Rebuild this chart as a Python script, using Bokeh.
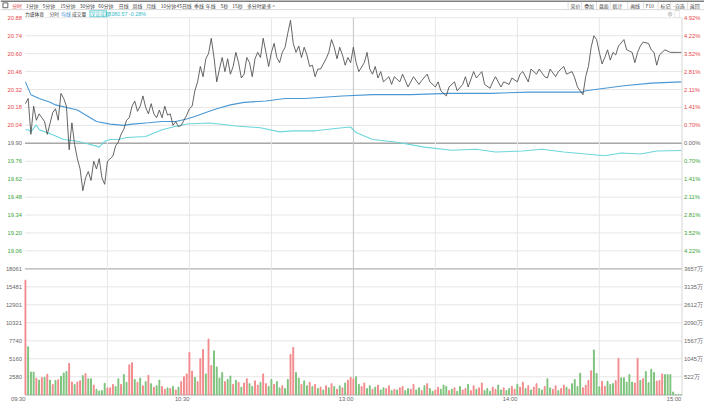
from bokeh.plotting import figure
from bokeh.models import Range1d
from bokeh.embed import file_html
from bokeh.resources import INLINE
from bokeh.core.properties import value

# ---------------- data ----------------
stock_name = "力盛体育"
index_name = "深证成指"
index_last = "8380.57"
index_chg = "-0.28%"
prev_close = 19.90

price_ticks = ["20.88", "20.74", "20.60", "20.46", "20.32", "20.18", "20.04",
               "19.90", "19.76", "19.62", "19.48", "19.34", "19.20", "19.06"]
pct_ticks = ["4.92%", "4.22%", "3.52%", "2.81%", "2.11%", "1.41%", "0.70%",
             "0.00%", "0.70%", "1.41%", "2.11%", "2.81%", "3.52%", "4.22%"]
vol_ticks = ["18061", "15481", "12901", "10321", "7740", "5160", "2580"]
amt_ticks = ["3657万", "3135万", "2612万", "2090万", "1567万", "1045万", "522万"]
time_ticks = ["09:30", "10:30", "13:00", "14:00", "15:00"]
time_tick_min = [0, 60, 120, 180, 240]
grid_min = [30, 60, 90, 120, 150, 180, 210]

price_min = [0, 1, 2, 3, 4, 5, 6, 7, 8, 10, 11, 12, 13, 14, 15, 16, 17, 18, 19, 20,
             21, 22, 23, 24, 25, 26, 27, 28, 29, 30, 32, 33, 34, 35, 36, 37, 38, 39, 40, 41,
             42, 43, 44, 45, 46, 47, 48, 49, 50, 51, 52, 53, 54, 55, 56, 57, 58, 59, 60, 61,
             62, 63, 64, 65, 66, 67, 68, 69, 70, 71, 72, 73, 74, 75, 76, 77, 78, 79, 80, 81,
             82, 83, 84, 85, 86, 87, 88, 89, 90, 91, 92, 93, 94, 95, 96, 97, 98, 99, 100, 101,
             102, 103, 104, 105, 106, 107, 108, 110, 111, 112, 113, 114, 115, 116, 117, 118, 119,
             120, 121, 122, 124, 125, 126, 127, 128, 129, 130, 131, 133, 134, 135, 137, 138, 140,
             141, 142, 144, 145, 147, 148, 150, 151, 152, 154, 155, 157, 158, 160, 161, 162, 164,
             165, 167, 168, 170, 171, 172, 174, 175, 177, 178, 180, 181, 182, 184, 185, 187, 188,
             190, 191, 192, 194, 195, 197, 198, 200, 201, 202, 204, 205, 206, 207, 208, 209, 210,
             211, 212, 213, 214, 215, 216, 217, 219, 220, 221, 222, 223, 224, 225, 226, 228, 229,
             230, 231, 232, 233, 234, 235, 236, 238, 239, 240]
price_val = [20.21, 20.25, 19.97, 20.19, 20.08, 20.13, 20.10, 20.07, 19.97, 20.14, 20.17, 20.08,
             20.29, 20.25, 20.19, 19.85, 20.06, 19.89, 19.78, 19.70, 19.53, 19.63, 19.68, 19.61,
             19.76, 19.70, 19.78, 19.63, 19.58, 19.76, 19.80, 19.88, 19.91, 19.97, 20.01, 20.08,
             20.10, 20.19, 20.23, 20.15, 20.19, 20.27, 20.18, 20.13, 20.21, 20.13, 20.10, 20.16,
             20.10, 20.19, 20.12, 20.13, 20.04, 20.07, 20.03, 20.04, 20.08, 20.12, 20.17, 20.19,
             20.31, 20.38, 20.50, 20.42, 20.56, 20.60, 20.72, 20.57, 20.38, 20.48, 20.57, 20.46,
             20.56, 20.44, 20.50, 20.61, 20.53, 20.41, 20.44, 20.57, 20.53, 20.42, 20.56, 20.61,
             20.57, 20.72, 20.61, 20.50, 20.61, 20.68, 20.57, 20.53, 20.61, 20.65, 20.76, 20.86,
             20.68, 20.61, 20.66, 20.57, 20.65, 20.59, 20.50, 20.51, 20.42, 20.48, 20.48, 20.56,
             20.61, 20.71, 20.65, 20.56, 20.65, 20.59, 20.51, 20.57, 20.53,
             20.65, 20.53, 20.46, 20.53, 20.61, 20.48, 20.44, 20.50, 20.41, 20.46, 20.38, 20.42,
             20.36, 20.42, 20.38, 20.44, 20.34, 20.38, 20.42, 20.36, 20.39, 20.44, 20.38, 20.34,
             20.38, 20.31, 20.27, 20.34, 20.38, 20.31, 20.36, 20.42, 20.34, 20.46, 20.41, 20.46,
             20.36, 20.33, 20.38, 20.42, 20.34, 20.38, 20.36, 20.41, 20.38, 20.44, 20.46, 20.38,
             20.48, 20.44, 20.48, 20.42, 20.41, 20.48, 20.42, 20.46, 20.50, 20.44, 20.46, 20.41,
             20.34, 20.28, 20.42, 20.50, 20.65, 20.74, 20.71, 20.61, 20.52, 20.57, 20.63, 20.55,
             20.61, 20.59, 20.66, 20.71, 20.63, 20.62, 20.61, 20.53, 20.61, 20.66, 20.69, 20.68,
             20.63, 20.61, 20.51, 20.59, 20.61, 20.63, 20.62, 20.61, 20.61, 20.61, 20.61]

avg_min = [0, 2, 5, 9, 11, 19, 26, 31, 36, 39, 45, 50, 55, 59, 62, 66, 70, 75, 80, 88,
           95, 102, 109, 116, 127, 141, 155, 170, 184, 198, 204, 205, 212, 219, 229, 240]
avg_val = [20.38, 20.28, 20.25, 20.22, 20.20, 20.16, 20.07, 20.05, 20.04, 20.05, 20.06, 20.07,
           20.07, 20.09, 20.11, 20.14, 20.17, 20.20, 20.22, 20.23, 20.25, 20.25, 20.26, 20.27,
           20.28, 20.28, 20.29, 20.29, 20.30, 20.30, 20.30, 20.31, 20.33, 20.35, 20.37, 20.38]

idx_min = [0, 1, 2, 4, 5, 8, 10, 14, 19, 22, 26, 27, 29, 31, 34, 37, 44, 50, 54, 59, 67, 71,
           77, 86, 93, 98, 106, 116, 119, 121, 127, 136, 146, 156, 165, 172, 182, 189, 197, 205,
           212, 218, 225, 231, 240]
idx_pct = [0.53, 0.53, 0.45, 0.72, 0.53, 0.42, 0.34, 0.15, 0.08, 0.00, -0.11, -0.15, 0.08,
           0.15, 0.15, 0.23, 0.27, 0.53, 0.64, 0.76, 0.80, 0.76, 0.68, 0.61, 0.45, 0.49, 0.49,
           0.61, 0.64, 0.42, 0.15, 0.04, -0.15, -0.27, -0.23, -0.34, -0.30, -0.23, -0.34, -0.42,
           -0.49, -0.38, -0.42, -0.30, -0.28]

vol_am = [16450, 6890, 3270, 3270, 2390, 2110, 2480, 2520, 2940, 2110,
          1480, 2070, 2160, 2660, 3130, 3360, 4510, 1840, 1480, 1840,
          2020, 2760, 3030, 2300, 2300, 1390, 790, 550, 600, 1650,
          1000, 1000, 1480,
          1200, 2300, 1500, 2900, 1800, 4300, 4600, 2200, 1800, 2400,
          1300, 1900, 2800, 1600, 1100, 1300, 2100, 1200, 800, 1000,
          900, 1200, 700, 1100, 1900, 2600, 3000, 6100, 3400, 2500,
          1900, 5200, 6500, 3000, 8000, 4200, 6300, 4000, 2400, 3200,
          1900, 2200, 2700, 1500, 2100, 1800, 1100, 1700, 2300, 1600,
          1200, 2000, 1400, 1800, 3000, 1600, 1200, 2200, 1500, 1900,
          1000, 1300, 900, 2200, 5800, 6800, 3200, 2400, 1500, 2000,
          1300, 1800, 1200, 1500, 900, 1100, 700, 1300, 1000, 1600,
          1200, 800, 1300, 1000, 1700, 2100, 2500]
dir_am = ("rgggrgrgrg" "rgrgggrrgr" "rgrggrgggg" "rrr"
          "ggrggrrgrg" "rgrgrggrrg" "rgrgrrrrrg" "rrrgrrgggg"
          "rggrgrgrrg" "grrgrrggrg" "grggrrggrg" "grgrgrgrgr" "grgrgrr")
vol_pm = [2300, 2600, 1500, 1200, 1700, 900, 1300, 800, 1100, 1400,
          700, 1000, 900, 1300, 600, 800, 700, 1000, 1200, 600,
          900, 800, 1500, 700, 1000, 600, 1300, 1600, 900, 500,
          700, 1100, 800, 1400, 1200, 600, 800, 1000, 500, 1200,
          700, 900, 1500, 600, 1300, 800, 1000, 1700, 600, 900,
          500, 1100, 800, 1400, 700, 1000, 600, 900, 1200, 800,
          1500, 1100, 1800, 900, 1300, 700, 1100, 1600, 900, 700,
          1200, 2300, 1000, 800, 1300, 600, 900, 1400, 1100, 800,
          1600, 2200, 1200, 3100, 1000,
          1380, 2070, 3450, 6440, 3080, 1150, 1930, 1240, 1930, 1480,
          1610, 2030, 5240, 2440, 2440, 1830, 2900, 1830, 1700, 5240,
          2070, 2300, 3350, 1750, 3680, 3210, 1970, 2070, 2990, 2900,
          2900, 2900, 410, 0, 0, 0]
dir_pm = ("rggrrggrgr" "ggrrgrgrrg" "grrggrgrgg" "rrgggrgrgg" "rrgrrgrrgg"
          "grrggrggrr" "grrgrgrrgg" "rggrrgrrgr" "ggggr"
          "rrrgggrrgg" "grrgggggrr" "grggggrrrg" "gggggg")

toolbar_left = ["分时", "1分钟", "5分钟", "15分钟", "30分钟", "60分钟", "日线", "周线", "月线",
                "10分钟", "45日线", "季线", "年线", "5秒", "15秒", "多分时", "更多 >"]
toolbar_right = ["竞价", "叠加", "盘面", "统计", "画线", "F10", "标记", "-自选", "返回"]

# ---------------- layout (reference pixel frame) ----------------
REF_W, REF_H = 720, 418
W, H = 704, 402
X0, PPM = 25.5, 2.795
FL, FR = 25, 697
PT, PB, VB = 18, 279, 410
FONT = value("Noto Sans CJK SC")
NUMFONT = value("Liberation Sans")
RED, GREEN, GRAY = "#E8464B", "#3AA43A", "#666666"

p_hi = float(price_ticks[0])
p_lo = 2 * prev_close - p_hi
ppx = (p_hi - p_lo) / (PB - PT)
v_hi = float(vol_ticks[0])
vpx = v_hi / (VB - PB)

p = figure(width=W, height=H, output_backend="svg", toolbar_location=None,
           x_axis_type=None, y_axis_type=None, min_border=0,
           x_range=Range1d(-X0 / PPM, (REF_W - X0) / PPM),
           y_range=Range1d(p_lo - (REF_H - PB) * ppx, p_hi + PT * ppx))
p.outline_line_color = None
p.grid.visible = False
p.background_fill_color = "white"
p.extra_x_ranges = {"px": Range1d(0, REF_W)}
p.extra_y_ranges = {"py": Range1d(REF_H, 0),
                    "vol": Range1d(-(REF_H - VB) * vpx, VB * vpx)}


def txt(x, y, s, color, size="5px", align="left", xr="px", yr="py", font=FONT):
    p.text(x=x, y=y, text=s, text_color=color, text_font=font, text_font_size=size,
           text_align=align, text_baseline="middle", x_range_name=xr, y_range_name=yr)


# window chrome / toolbar
p.segment(x0=[0], x1=[REF_W], y0=[0.5], y1=[0.5], line_color="#555555", line_width=1.5,
          x_range_name="px", y_range_name="py")
p.segment(x0=[0], x1=[REF_W], y0=[9.5], y1=[9.5], line_color="#D8D8D8", line_width=1,
          x_range_name="px", y_range_name="py")
p.rect(x=[5], y=[5], width=[5], height=[5], fill_color=None, line_color="#666666",
       x_range_name="px", y_range_name="py")
tl_x = [12, 26, 43, 61, 81, 100, 121, 135, 149, 164, 180, 198, 210, 225, 237, 252, 267]
for s, x in zip(toolbar_left, tl_x):
    txt([x], [5], [s], RED if s == "分时" else "#444444", size="4.9px")
tr_x = [583, 597, 612, 626, 644, 660, 675, 688, 705]
for s, x in zip(toolbar_right, tr_x):
    txt([x], [5], [s], "#444444", size="4.9px")
p.segment(x0=[x - 2.5 for x in tr_x], x1=[x - 2.5 for x in tr_x], y0=[1.5] * len(tr_x),
          y1=[9] * len(tr_x), line_color="#DDDDDD", x_range_name="px", y_range_name="py")

# header row
txt([25], [14], [stock_name], "#333333", size="4.8px")
txt([50], [14], ["分时"], "#444444", size="4.8px")
txt([62], [14], ["均线"], "#3C8DD0", size="4.8px")
txt([73], [14], ["成交量"], "#444444", size="4.8px")
p.rect(x=[100], y=[14], width=[17], height=[6.5], fill_color=None, line_color="#5CCFD6",
       x_range_name="px", y_range_name="py")
txt([92], [14], [index_name], "#36BCC8", size="4.8px")
txt([110], [14], [index_last + " " + index_chg], "#36BCC8", size="5.4px", font=NUMFONT)
txt([682], [14], ["⊕"], "#777777", size="5.5px")
txt([689], [14], ["▢"], "#777777", size="5.5px")

# grid: price
pt_vals = [float(t) for t in price_ticks]
p.segment(x0=[FL] * len(pt_vals), x1=[FR] * len(pt_vals), y0=pt_vals, y1=pt_vals,
          line_color="#E6E6E6", line_width=1, x_range_name="px")
p.segment(x0=[FL], x1=[FR], y0=[prev_close], y1=[prev_close], line_color="#A8A8A8",
          line_width=1.6, x_range_name="px")
# grid: volume
vt_vals = [float(t) for t in vol_ticks]
p.segment(x0=[FL] * len(vt_vals), x1=[FR] * len(vt_vals), y0=vt_vals, y1=vt_vals,
          line_color="#E6E6E6", line_width=1, x_range_name="px", y_range_name="vol")
p.segment(x0=[FL, FL], x1=[FR, FR], y0=[PB, VB], y1=[PB, VB], line_color="#B8B8B8",
          line_width=1.2, x_range_name="px", y_range_name="py")
# vertical grid
p.segment(x0=grid_min, x1=grid_min, y0=[PT] * len(grid_min), y1=[VB] * len(grid_min),
          line_color=["#C4C4C4" if m == 120 else "#E6E6E6" for m in grid_min],
          line_width=1, y_range_name="py")
p.segment(x0=[FR], x1=[FR], y0=[PT], y1=[VB], line_color="#D6D6D6", x_range_name="px",
          y_range_name="py")

# volume bars
vol = vol_am + vol_pm
dirs = dir_am + dir_pm
assert len(vol) == 241 and len(dirs) == 241
vol_min = list(range(len(vol)))
p.vbar(x=vol_min, top=vol, bottom=0, width=0.32,
       color=["#F28A8C" if d == "r" else "#7CC27C" for d in dirs], y_range_name="vol")

# index overlay (percentage mapped on price axis)
idx_y = [prev_close * (1 + v / 100.0) for v in idx_pct]
p.line(idx_min, idx_y, line_color="#6CD6DC", line_width=1.1)
# average price
p.line(avg_min, avg_val, line_color="#4A98D4", line_width=1.1)
# price
p.line(price_min, price_val, line_color="#4A4A4A", line_width=0.85)

# axis labels
for t, pc in zip(price_ticks, pct_ticks):
    v = float(t)
    c = RED if v > prev_close + 1e-9 else (GREEN if v < prev_close - 1e-9 else GRAY)
    txt([22], [v], [t], c, size="5.8px", align="right", yr="default", font=NUMFONT)
    txt([699], [v], [pc], c, size="5.8px", align="left", yr="default", font=NUMFONT)
for t, a in zip(vol_ticks, amt_ticks):
    v = float(t)
    txt([22], [v], [t], GRAY, size="5.8px", align="right", yr="vol", font=NUMFONT)
    txt([699], [v], [a], GRAY, size="5.8px", align="left", yr="vol", font=NUMFONT)

# time labels
for t, m in zip(time_ticks, time_tick_min):
    txt([m], [414], [t], GRAY, size="5.8px", align="right", xr="default", font=NUMFONT)

open("out.html", "w").write(file_html(p, INLINE))
